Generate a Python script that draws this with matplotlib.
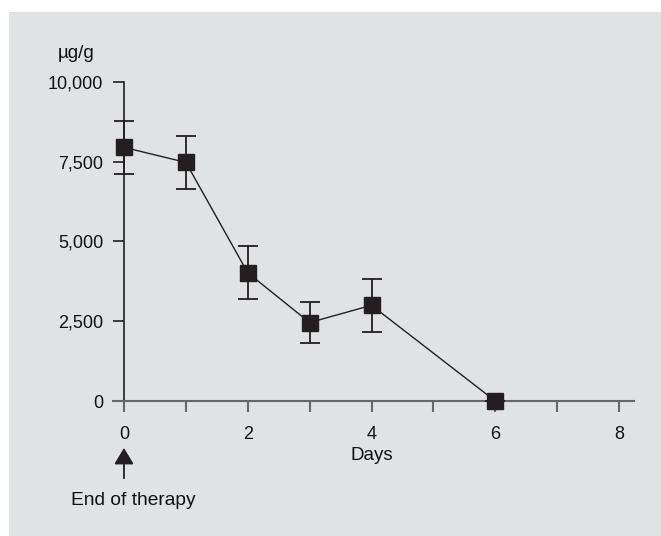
import matplotlib
matplotlib.use("Agg")
import matplotlib.pyplot as plt
from matplotlib.patches import Rectangle
from matplotlib.transforms import blended_transform_factory

days = [0, 1, 2, 3, 4, 6]
conc = [7950, 7480, 4020, 2460, 3000, 0]
err = [830, 830, 830, 650, 830, 0]
x_ticks = [0, 1, 2, 3, 4, 5, 6, 7, 8]
x_labels = ["0", "", "2", "", "4", "", "6", "", "8"]
y_ticks = [0, 2500, 5000, 7500, 10000]
y_labels = ["0", "2,500", "5,000", "7,500", "10,000"]

plt.rcParams['font.family'] = ['Liberation Sans', 'DejaVu Sans']
W, H = 661, 536
fig = plt.figure(figsize=(W / 100, H / 100), dpi=100)
fig.patch.set_facecolor('white')
bg = '#e1e2e4'
fig.patches.append(Rectangle((9 / W, 0), 1 - 9 / W, 1 - 12 / H, transform=fig.transFigure,
                             facecolor=bg, edgecolor='none', zorder=-10))

ax = fig.add_axes([113 / W, (H - 401) / H, 521 / W, 319 / H])
ax.set_facecolor('none')
ax.set_xlim(-11 / 62, 8 + 15 / 62)
ax.set_ylim(0, 10000)

dark = '#231f20'
ax.errorbar(days, conc, yerr=err, fmt='none', ecolor=dark, elinewidth=1.3,
            capsize=7, capthick=1.3, clip_on=False, zorder=3)
ax.plot(days, conc, color=dark, linewidth=1.0, marker='s', markersize=11.5,
        markerfacecolor=dark, markeredgecolor=dark, clip_on=False, zorder=4)

for s in ['top', 'right']:
    ax.spines[s].set_visible(False)
ax.spines['left'].set_position(('data', 0))
ax.spines['left'].set_bounds(0, 10000)
ax.spines['left'].set_color(dark)
ax.spines['left'].set_linewidth(1.2)
ax.spines['bottom'].set_color('#666666')
ax.spines['bottom'].set_linewidth(1.5)

ax.set_xticks(x_ticks)
ax.set_xticklabels(x_labels)
ax.set_yticks(y_ticks)
ax.set_yticklabels(y_labels)
ax.tick_params(axis='x', direction='out', length=8, width=1.5, color='#666666',
               pad=10, labelsize=13, labelcolor='#111111')
ax.tick_params(axis='y', direction='out', length=8, width=1.2, color=dark,
               pad=7, labelsize=13, labelcolor='#111111')

tr = blended_transform_factory(ax.transData, ax.transAxes)
ax.text(4, -0.172, 'Days', transform=tr, ha='center', va='center',
        fontsize=13.5, color='#111111')
ax.text(-0.071, 1.09, 'µg/g', transform=ax.transAxes, ha='center', va='center',
        fontsize=13.5, color='#111111')

ax.annotate('', xy=(0, -0.147), xycoords=tr, xytext=(0, -0.242), textcoords=tr,
            arrowprops=dict(arrowstyle='-|>,head_length=1.0,head_width=0.6', color=dark,
                            lw=1.3, shrinkA=0, shrinkB=0), annotation_clip=False)
ax.text(0.153, -0.312, 'End of therapy', transform=tr, ha='center', va='center',
        fontsize=13.8, color='#111111')

fig.savefig('out.png', dpi=100, facecolor=fig.get_facecolor())
